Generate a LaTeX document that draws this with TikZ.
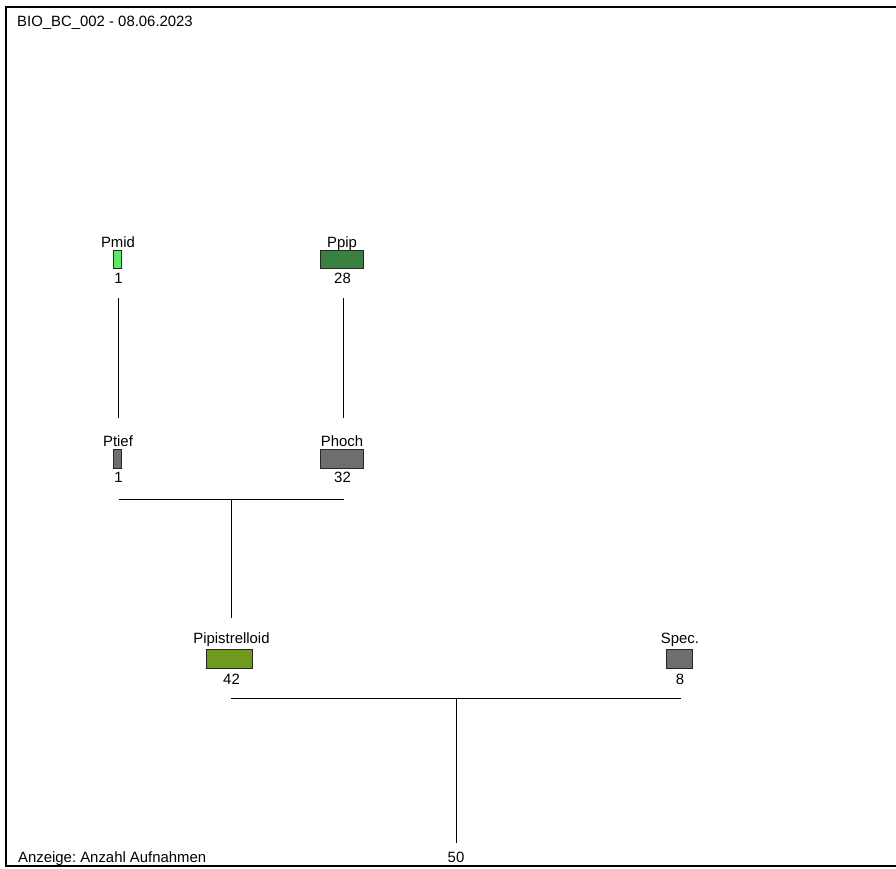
\documentclass[tikz,border=0pt]{standalone}
\usepackage{fontspec}
\setmainfont{Liberation Sans}
\frenchspacing
\definecolor{pmidgreen}{RGB}{94,234,94}
\definecolor{ppipgreen}{RGB}{58,128,64}
\definecolor{pipiolive}{RGB}{111,154,30}
\definecolor{unkgrey}{RGB}{110,110,110}

\begin{document}
\begin{tikzpicture}[x=1pt,y=-1pt,font=\fontsize{14.9}{17}\selectfont,
 txt/.style={inner sep=0pt,anchor=base},
 bar/.style={draw=black!85,line width=1pt,inner sep=0pt,minimum height=18.5pt},
 link/.style={line width=0.9pt}]
\useasboundingbox (0,0) rectangle (896,868);
\draw[line width=1.2pt] (6,7) rectangle (905,866);
\node[txt,anchor=base west] (title) at (17,26) {BIO\_BC\_002 - 08.06.2023};
\node[txt,anchor=base west] (legend) at (18,862) {Anzeige: Anzahl Aufnahmen};
% upper level
\node[txt] (pmidlbl) at (118,247) {Pmid};
\node[bar,fill=pmidgreen,minimum width=8.4pt] (pmidbox) at (117.5,259.5) {};
\node[txt] (pmidcnt) at (118.5,283) {1};
\node[txt] (ppiplbl) at (342,247) {Ppip};
\node[bar,fill=ppipgreen,minimum width=43pt] (ppipbox) at (342.3,259.5) {};
\node[txt] (ppipcnt) at (342.5,283) {28};
% middle level
\node[txt] (ptieflbl) at (118,446) {Ptief};
\node[bar,fill=unkgrey,minimum width=8.4pt] (ptiefbox) at (117.5,459) {};
\node[txt] (ptiefcnt) at (118.5,482.5) {1};
\node[txt] (phochlbl) at (342,446) {Phoch};
\node[bar,fill=unkgrey,minimum width=43pt] (phochbox) at (342.3,459) {};
\node[txt] (phochcnt) at (342.5,482.5) {32};
% lower level
\node[txt] (pipilbl) at (231.5,643) {Pipistrelloid};
\node[bar,fill=pipiolive,minimum width=46pt] (pipibox) at (229.7,658.8) {};
\node[txt] (pipicnt) at (231.5,684) {42};
\node[txt] (speclbl) at (680,643) {Spec.};
\node[bar,fill=unkgrey,minimum width=26pt] (specbox) at (679.7,658.8) {};
\node[txt] (speccnt) at (680,684) {8};
\node[txt] (total) at (456,862) {50};
% branch points
\coordinate (pmiddown) at (118.5,298);
\coordinate (ptiefup) at (118.5,418);
\coordinate (ppipdown) at (343.5,298);
\coordinate (phochup) at (343.5,418);
\coordinate (leftfork) at (118.5,499);
\coordinate (rightfork) at (343.5,499);
\coordinate (pipistem) at (231,499);
\coordinate (pipiup) at (231,618);
\coordinate (lowleft) at (231,698);
\coordinate (lowright) at (681,698);
\coordinate (rootstem) at (456,698);
\coordinate (rootdown) at (456,843);
\draw[link] (pmiddown) -- (ptiefup);
\draw[link] (ppipdown) -- (phochup);
\draw[link] (leftfork) -- (rightfork);
\draw[link] (pipistem) -- (pipiup);
\draw[link] (lowleft) -- (lowright);
\draw[link] (rootstem) -- (rootdown);
\end{tikzpicture}
\end{document}
